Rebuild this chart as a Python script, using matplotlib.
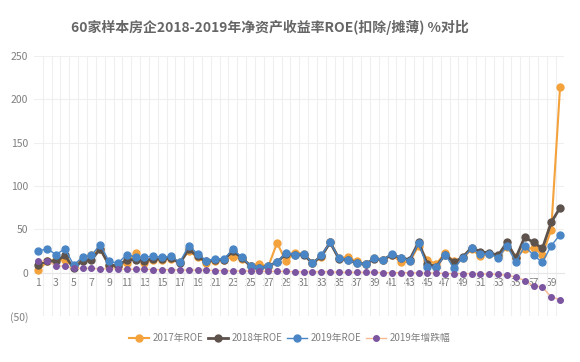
import matplotlib
matplotlib.use("Agg")
import matplotlib.pyplot as plt
import numpy as np

plt.rcParams['font.family'] = ['Noto Sans CJK SC', 'DejaVu Sans']

title = "60家样本房企2018-2019年净资产收益率ROE(扣除/摊薄) %对比"
companies = list(range(1, 61))
roe_2017 = [3, 13, 15, 15, 7, 16, 20, 27, 8, 8, 11, 23, 11, 15, 15, 16, 12, 25, 18, 11,
            14, 15, 18, 16, 8, 10, 7, 34.5, 13, 23, 22, 11, 18, 35, 17, 18, 13, 10, 17, 15,
            21, 12, 13, 31, 15, 10, 23, 13, 17, 27, 19, 22, 18, 30, 18, 27, 29, 21, 49, 214]
roe_2018 = [9, 14, 13, 20, 5, 14, 15, 27.5, 9, 8, 15, 15, 14, 16, 16, 17, 11, 27, 19, 13,
            15, 15, 25, 17, 8, 5, 8, 12, 22, 21, 21, 11, 19, 35, 16, 15, 11, 10, 16, 15,
            21, 17, 15, 35, 10, 7, 21, 12, 18, 29, 24, 23, 20, 35, 17, 41, 35, 28, 58, 75]
roe_2019 = [25, 27.5, 21, 27.5, 9, 18, 20, 32.5, 13, 11, 21, 18, 18, 19, 18, 19, 12, 31, 22, 14,
            16, 16, 27, 18, 8, 5.5, 8, 12, 23, 21, 22, 11, 20, 35, 17, 15, 11, 10, 17, 15,
            22, 17, 14, 34, 7, 6.5, 21, 5, 17, 28, 21.5, 22, 17, 31, 12, 31, 20, 12, 31, 44]
change_2019 = [13, 13.5, 8, 7.5, 5, 5, 5, 4.5, 4.5, 4.5, 4, 4, 4, 3.5, 3.5, 3.5, 3, 3, 3, 3,
               2.5, 2.5, 2, 2, 2, 1.5, 1.5, 1.5, 1.5, 1, 1, 1, 1, 1, 0.5, 0.5, 0.5, 0.5, 0.5, 0,
               0, 0, 0, -0.5, -0.5, -0.5, -1, -1, -1, -1, -1.5, -1.5, -2, -3, -5, -9, -15, -16.5, -28, -31]
series_names = ["2017年ROE", "2018年ROE", "2019年ROE", "2019年增跌幅"]
y_ticks = [-50, 0, 50, 100, 150, 200, 250]
y_ticklabels = ["(50)", "0", "50", "100", "150", "200", "250"]

fig = plt.figure(figsize=(5.8, 3.62), dpi=100)
ax = fig.add_axes([0.0585, 0.127, 0.9147, 0.718])

x = np.array(companies)
ax.plot(x, roe_2017, color="#F4A23C", lw=1.5, marker="o", ms=5, label=series_names[0], zorder=3)
ax.plot(x, roe_2018, color="#5E524C", lw=2.0, marker="o", ms=5, label=series_names[1], zorder=4)
ax.plot(x, roe_2019, color="#4A86C6", lw=1.0, marker="o", ms=5, label=series_names[2], zorder=5)
ax.plot(x, change_2019, color="#F5B993", lw=1.0, marker="o", ms=4,
        mfc="#7B55A0", mec="#7B55A0", label=series_names[3], zorder=6)

ax.set_xlim(0.5, 60.5)
ax.set_ylim(-50, 250)
ax.set_yticks(y_ticks)
ax.set_yticklabels(y_ticklabels)
for lab in ax.get_yticklabels():
    lab.set_color("#C00000" if lab.get_text() == "(50)" else "#7F7F7F")
ax.set_xticks(x[::2])
ax.set_xticklabels([str(c) for c in companies[::2]])
ax.set_xticks(np.arange(1.5, 60.5, 1), minor=True)

ax.spines['bottom'].set_position(('data', 0))
for s in ['top', 'right', 'left']:
    ax.spines[s].set_visible(False)
ax.spines['bottom'].set_color("#E6E6E6")
ax.tick_params(axis='both', which='both', length=0, labelsize=7.5, colors="#7F7F7F")
ax.tick_params(axis='x', pad=4)
ax.tick_params(axis='y', pad=4)

ax.grid(axis='y', which='major', color="#EFEFEF", lw=0.8)
ax.grid(axis='x', which='minor', color="#EFEFEF", lw=0.8)
ax.set_axisbelow(True)

fig.suptitle(title, x=0.465, y=0.945, fontsize=10, fontweight='bold', color="#666666")

leg = fig.legend(loc='center', bbox_to_anchor=(0.5, 0.066), ncol=4, frameon=False,
                 fontsize=7, handlelength=2.0, columnspacing=0.5, handletextpad=0.4)
for t in leg.get_texts():
    t.set_color("#7F7F7F")

fig.savefig("out.png", dpi=100)
